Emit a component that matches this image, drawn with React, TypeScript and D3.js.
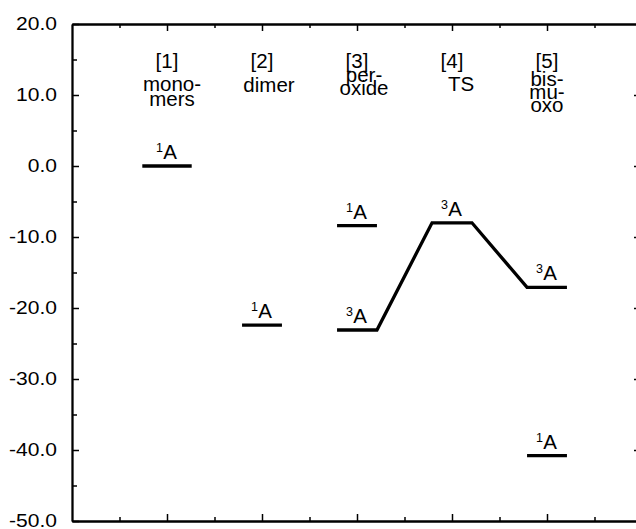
import React, { useRef, useEffect } from "react";
import * as d3 from "d3";

// columns of the energy diagram
const stateIds = ["[1]", "[2]", "[3]", "[4]", "[5]"];
const stateNames = [["mono-", "mers"], ["dimer"], ["per-", "oxide"], ["TS"], ["bis-", "mu-", "oxo"]];
// relative energies (null = no level)
const singletE = [0.0, -22.4, -8.4, null, -40.8];
const tripletE = [null, null, -23.1, -8.0, -17.1];
const yMajorTicks = [20, 10, 0, -10, -20, -30, -40, -50];
const yMinorTicks = [15, 5, -5, -15, -25, -35, -45];
const xMajorTicks = [1, 2, 3, 4, 5];
const xMinorTicks = [0.5, 1.5, 2.5, 3.5, 4.5, 5.5];

const FONT = "'Liberation Sans', Arial, Helvetica, sans-serif";

const EnergyDiagram = () => {
  const ref = useRef(null);

  useEffect(() => {
    if (!ref.current) return;
    const svg = d3.select(ref.current);
    svg.selectAll("*").remove();

    const x = d3.scaleLinear().domain([0, 6]).range([72, 642]);
    const y = d3.scaleLinear().domain([-50, 20]).range([521, 24]);

    const styleAxis = (g) => {
      g.select(".domain").attr("stroke", "#000").attr("stroke-width", 1.8);
      g.selectAll(".tick line").attr("stroke", "#000").attr("stroke-width", 1.5);
    };

    // left axis, ticks inside, labels outside
    svg
      .append("g")
      .attr("transform", `translate(${x(0)},0)`)
      .call(d3.axisLeft(y).tickValues(yMinorTicks).tickSize(-5).tickSizeOuter(0).tickFormat(() => ""))
      .call(styleAxis);
    const left = svg
      .append("g")
      .attr("transform", `translate(${x(0)},0)`)
      .call(
        d3
          .axisLeft(y)
          .tickValues(yMajorTicks)
          .tickSize(-7)
          .tickSizeOuter(0)
          .tickPadding(15)
          .tickFormat((d) => d.toFixed(1))
      )
      .call(styleAxis);
    left
      .selectAll(".tick text")
      .attr("font-family", FONT)
      .attr("font-size", 18)
      .attr("fill", "#000")
      .attr("x", -15 / 1.17)
      .attr("transform", "scale(1.17,1)");

    // right axis (mostly off the page)
    svg
      .append("g")
      .attr("transform", `translate(${x(6)},0)`)
      .call(d3.axisRight(y).tickValues(yMajorTicks.slice(1, -1)).tickSize(-8).tickSizeOuter(0).tickFormat(() => ""))
      .call(styleAxis);

    // top and bottom axes
    [
      [d3.axisTop, y(20)],
      [d3.axisBottom, y(-50)],
    ].forEach(([axisFn, yPos]) => {
      svg
        .append("g")
        .attr("transform", `translate(0,${yPos})`)
        .call(axisFn(x).tickValues(xMinorTicks).tickSize(-4).tickSizeOuter(0).tickFormat(() => ""))
        .call(styleAxis);
      svg
        .append("g")
        .attr("transform", `translate(0,${yPos})`)
        .call(axisFn(x).tickValues(xMajorTicks).tickSize(-7).tickSizeOuter(0).tickFormat(() => ""))
        .call(styleAxis);
    });

    // column headings
    const nameShift = [5, 7, 7, 9, 0];
    const nameTop = [91, 92, 82, 91, 86];
    const nameStep = [15, 15, 13, 15, 13];
    stateIds.forEach((id, i) => {
      const cx = x(i + 1);
      svg
        .append("text")
        .attr("x", cx)
        .attr("y", 68)
        .attr("text-anchor", "middle")
        .attr("font-family", FONT)
        .attr("font-size", 20.5)
        .text(id);
      stateNames[i].forEach((line, j) => {
        svg
          .append("text")
          .attr("x", cx + nameShift[i])
          .attr("y", nameTop[i] + j * nameStep[i])
          .attr("text-anchor", "middle")
          .attr("font-family", FONT)
          .attr("font-size", 20.5)
          .text(line);
      });
    });

    const halfW = [0.26, 0.21, 0.21, 0.21, 0.21];

    const label = (cx, e, mult) => {
      const base = y(e) - 7;
      svg
        .append("text")
        .attr("x", cx + 3)
        .attr("y", base)
        .attr("text-anchor", "middle")
        .attr("font-family", FONT)
        .attr("font-size", 20.5)
        .text("A");
      svg
        .append("text")
        .attr("x", cx - 4)
        .attr("y", base - 7)
        .attr("text-anchor", "end")
        .attr("font-family", FONT)
        .attr("font-size", 12.5)
        .text(mult);
    };

    // singlet levels
    singletE.forEach((e, i) => {
      if (e === null) return;
      svg
        .append("line")
        .attr("x1", x(i + 1 - halfW[i]))
        .attr("x2", x(i + 1 + halfW[i]))
        .attr("y1", y(e))
        .attr("y2", y(e))
        .attr("stroke", "#000")
        .attr("stroke-width", 3.3);
      label(x(i + 1), e, "1");
    });

    // triplet pathway
    const pts = [];
    tripletE.forEach((e, i) => {
      if (e === null) return;
      pts.push([i + 1 - halfW[i], e], [i + 1 + halfW[i], e]);
      label(x(i + 1), e, "3");
    });
    svg
      .append("path")
      .attr("d", d3.line().x((d) => x(d[0])).y((d) => y(d[1]))(pts))
      .attr("fill", "none")
      .attr("stroke", "#000")
      .attr("stroke-width", 3.3)
      .attr("stroke-linejoin", "miter");
  }, []);

  return <svg ref={ref} width={636} height={529} style={{ position: "absolute", left: 0, top: 0, background: "#fff" }} />;
};

export default function App() {
  return <EnergyDiagram />;
}
